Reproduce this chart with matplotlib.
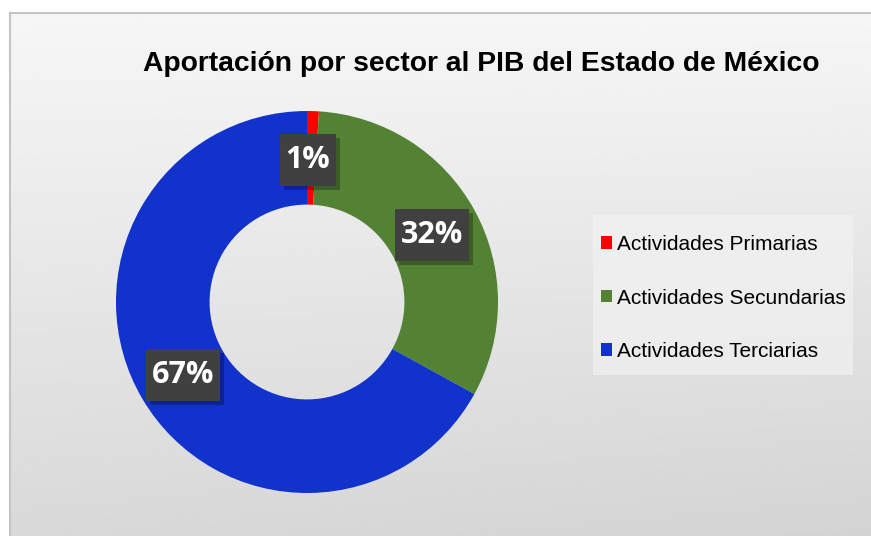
import numpy as np
import matplotlib.pyplot as plt
from matplotlib.patches import Rectangle

titulo = 'Aportación por sector al PIB del Estado de México'
sectores = ['Actividades Primarias', 'Actividades Secundarias', 'Actividades Terciarias']
porcentajes = [1, 32, 67]
colores = ['#ff0000', '#548235', '#1133cc']
etiquetas = ['1%', '32%', '67%']
# label positions in donut units (radius 1)
pos_etiquetas = [(0.005, 0.745), (0.655, 0.35), (-0.648, -0.38)]

W, H = 871, 536
fig = plt.figure(figsize=(W / 100, H / 100), dpi=100)
fig.patch.set_facecolor('white')

# chart area with soft gray gradient
bg = fig.add_axes([10 / W, 0, 1 - 10 / W, (H - 13) / H])
yy, xx = np.mgrid[0:1:200j, 0:1:300j]
grad = 0.965 - 0.115 * yy - 0.02 * xx * yy
bg.imshow(grad, cmap='gray', vmin=0, vmax=1, aspect='auto', extent=(0, 1, 1, 0))
bg.set_xlim(0, 1)
bg.set_ylim(1, 0)
bg.set_xticks([])
bg.set_yticks([])
for s in ['right', 'bottom']:
    bg.spines[s].set_visible(False)
for s in ['left', 'top']:
    bg.spines[s].set_color('#c4c4c4')
    bg.spines[s].set_linewidth(1.5)

fig.text(481 / W, 1 - 64 / H, titulo, ha='center', va='center',
         fontsize=20.3, fontweight='bold', family='Liberation Sans')

# donut
cx, cy, r = 307, 302, 191
ax = fig.add_axes([(cx - r) / W, (H - cy - r) / H, 2 * r / W, 2 * r / H])
ax.set_facecolor('none')
wedges, _ = ax.pie(porcentajes, colors=colores, startangle=90, counterclock=False,
                   radius=1.0, wedgeprops=dict(width=0.49, linewidth=0))
ax.set_xlim(-1, 1)
ax.set_ylim(-1, 1)
ax.set_aspect('equal')

# labels: dark boxes sized from the text extent
textos = []
for (x, y), t in zip(pos_etiquetas, etiquetas):
    textos.append(ax.text(x, y, t, ha='center', va='center', fontsize=22,
                          fontweight='bold', family='Open Sans', color='white',
                          zorder=5))
fig.canvas.draw()
ren = fig.canvas.get_renderer()
px = r  # pixels per data unit
for (x, y), txt in zip(pos_etiquetas, textos):
    ext = txt.get_window_extent(renderer=ren)
    w = (ext.width + 12) / px
    h = 52 / px
    ax.add_patch(Rectangle((x - w / 2 + 4 / px, y - h / 2 - 4 / px), w, h,
                           fc='black', ec='none', alpha=0.28, zorder=3))
    ax.add_patch(Rectangle((x - w / 2, y - h / 2), w, h,
                           fc='#404040', ec='none', zorder=4))

# legend panel
fig.patches.append(Rectangle((593 / W, 1 - 375 / H), 260 / W, 160 / H,
                             transform=fig.transFigure, fc='#f2f2f2', ec='none',
                             alpha=0.7, zorder=1))
leg = fig.legend(wedges, sectores, loc='center left',
                 bbox_to_anchor=(601 / W, 1 - 298 / H),
                 prop={'family': 'Liberation Sans', 'size': 15},
                 handlelength=0.55, handleheight=0.55, handletextpad=0.22,
                 labelspacing=1.65, borderpad=0, borderaxespad=0,
                 frameon=False)

fig.savefig('out.png', dpi=100)
